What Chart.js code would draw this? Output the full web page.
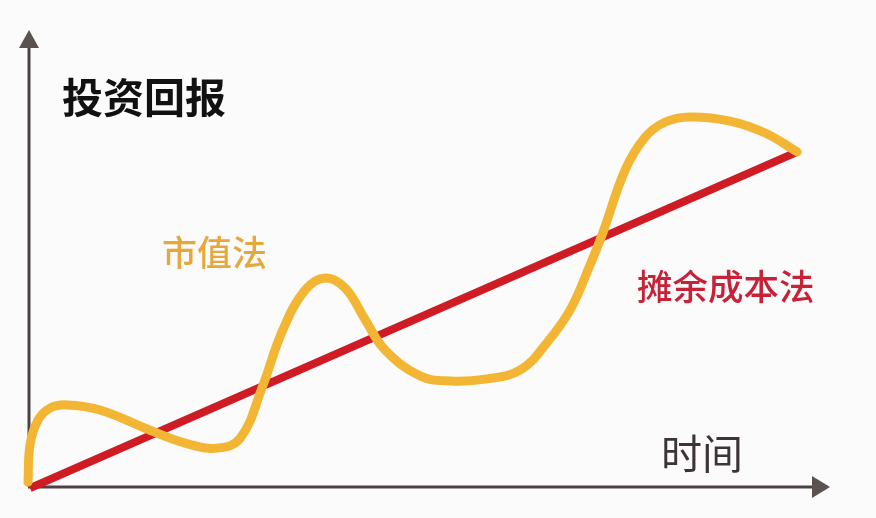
<!DOCTYPE html>
<html>
<head>
<meta charset="utf-8">
<script src="https://cdn.jsdelivr.net/npm/chart.js@4"></script>
<style>
    html, body { margin: 0; padding: 0; background: #fbfbfb; }
    .wrap { width: 876px; height: 518px; position: relative; }
</style>
</head>
<body>
<div class="wrap"><canvas id="returnChart"></canvas></div>
<script>
// Time axis (0 = origin, 100 = arrow tip) and return axis in the same units
const marketTime = [-0.25, 0, 1, 2.5, 4.6, 8.75, 15, 19.4, 23.4, 26.3, 29, 31.6, 34.4, 36.9, 39.4, 41.9, 44.4, 48.75, 52.5, 56.9, 61.3, 64.6, 67.5, 70, 71.6, 74.4, 76.9, 79.4, 82.5, 87.5, 91.9, 95.9];
const marketValue = [1.7, 9.8, 15.2, 17.8, 18.5, 17.4, 13.0, 10.2, 9.1, 11.3, 22.2, 34.8, 43.5, 46.1, 43.9, 37.0, 30.4, 24.8, 23.7, 24.1, 26.1, 32.0, 39.1, 48.9, 55.9, 69.6, 76.7, 80.0, 81.1, 80.2, 77.6, 73.5];

const amortTime = [0, 95.9];
const amortValue = [0.4, 73.5];

const labels = {
    yTitle: '投资回报',
    xTitle: '时间',
    market: '市值法',
    amort: '摊余成本法'
};

const toPoints = (xs, ys) => xs.map((x, i) => ({ x: x, y: ys[i] }));

const CJK = '"Noto Sans CJK SC", "Noto Sans", sans-serif';

// Draw the arrowed axes and the text labels
const axesPlugin = {
    id: 'axesPlugin',
    beforeDatasetsDraw(chart) {
        const { ctx, scales } = chart;
        const ox = scales.x.getPixelForValue(0);
        const oy = scales.y.getPixelForValue(0);
        const topY = scales.y.getPixelForValue(100);
        const endX = scales.x.getPixelForValue(100);
        ctx.save();
        ctx.strokeStyle = '#4b4343';
        ctx.fillStyle = '#5a524f';
        ctx.lineWidth = 3;
        ctx.beginPath();
        ctx.moveTo(ox - 1, oy - 3);
        ctx.lineTo(ox - 1, topY + 14);
        ctx.moveTo(ox - 2, oy - 3);
        ctx.lineTo(endX - 14, oy - 3);
        ctx.stroke();
        // arrow heads
        ctx.beginPath();
        ctx.moveTo(ox - 1, topY);
        ctx.lineTo(ox - 11, topY + 18);
        ctx.lineTo(ox + 9, topY + 18);
        ctx.closePath();
        ctx.fill();
        ctx.beginPath();
        ctx.moveTo(endX, oy - 3);
        ctx.lineTo(endX - 18, oy - 14);
        ctx.lineTo(endX - 18, oy + 8);
        ctx.closePath();
        ctx.fill();
        ctx.restore();
    },
    afterDatasetsDraw(chart) {
        const { ctx } = chart;
        ctx.save();
        ctx.textBaseline = 'middle';
        ctx.textAlign = 'left';

        ctx.font = 'bold 41px ' + CJK;
        ctx.fillStyle = '#111111';
        ctx.fillText(labels.yTitle, 62, 97);

        ctx.font = '500 35px ' + CJK;
        ctx.fillStyle = '#e6a83c';
        ctx.fillText(labels.market, 162, 253);

        ctx.font = '500 35.5px ' + CJK;
        ctx.fillStyle = '#c62238';
        ctx.fillText(labels.amort, 637, 287);

        ctx.font = '41px ' + CJK;
        ctx.fillStyle = '#3d3535';
        ctx.fillText(labels.xTitle, 661, 453);
        ctx.restore();
    }
};

new Chart(document.getElementById('returnChart'), {
    type: 'line',
    data: {
        datasets: [
            {
                label: labels.market,
                data: toPoints(marketTime, marketValue),
                borderColor: '#f3b634',
                borderWidth: 9,
                borderCapStyle: 'round',
                pointRadius: 0,
                tension: 0.4,
                fill: false
            },
            {
                label: labels.amort,
                data: toPoints(amortTime, amortValue),
                borderColor: '#cf1b24',
                borderWidth: 8,
                pointRadius: 0,
                tension: 0,
                fill: false
            }
        ]
    },
    options: {
        responsive: true,
        maintainAspectRatio: false,
        animation: false,
        layout: { padding: 0 },
        plugins: {
            legend: { display: false },
            tooltip: { enabled: false }
        },
        scales: {
            x: { type: 'linear', display: false, min: -3.75, max: 105.75 },
            y: { type: 'linear', display: false, min: -6.087, max: 106.52 }
        }
    },
    plugins: [axesPlugin]
});
</script>
</body>
</html>
